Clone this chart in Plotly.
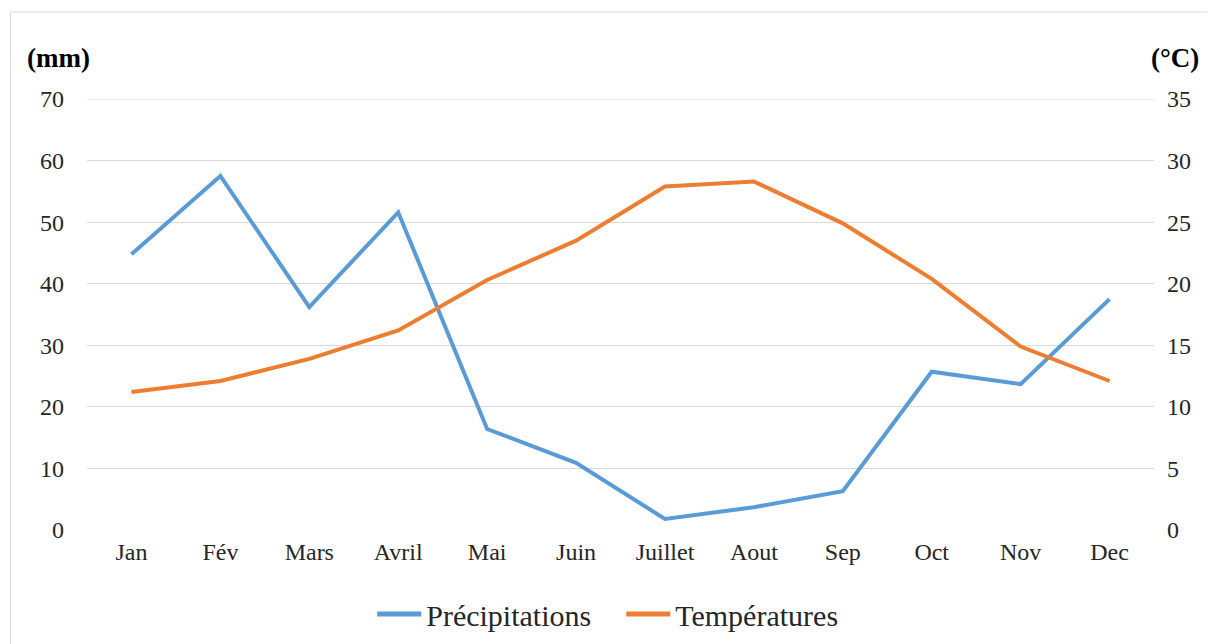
import plotly.graph_objects as go

months = ["Jan", "Fév", "Mars", "Avril", "Mai", "Juin", "Juillet", "Aout", "Sep", "Oct", "Nov", "Dec"]
precip = [44.8, 57.5, 36.2, 51.6, 16.4, 10.9, 1.8, 3.7, 6.3, 25.7, 23.7, 37.5]
temp = [11.2, 12.1, 13.9, 16.2, 20.3, 23.5, 27.9, 28.3, 24.9, 20.4, 14.9, 12.1]
y_ticks = [0, 10, 20, 30, 40, 50, 60, 70]
y2_ticks = [0, 5, 10, 15, 20, 25, 30, 35]

FONT = "Liberation Serif"

fig = go.Figure()
fig.add_trace(go.Scatter(x=months, y=precip, name="Précipitations", mode="lines",
                         line=dict(color="#5B9BD5", width=4), yaxis="y"))
fig.add_trace(go.Scatter(x=months, y=temp, name="Températures", mode="lines",
                         line=dict(color="#ED7D31", width=4), yaxis="y2"))

L, R, T, B = 86.5, 53.5, 99, 114
W, H = 1208, 644
pw, ph = W - L - R, H - T - B

def px(x):
    return (x - L) / pw

def py(y):
    return (H - B - y) / ph

fig.update_layout(
    width=W, height=H,
    margin=dict(l=L, r=R, t=T, b=B, autoexpand=False),
    paper_bgcolor="white", plot_bgcolor="white",
    font=dict(family=FONT, color="#262626", size=24),
    showlegend=True,
    legend=dict(orientation="h", x=px(372), xanchor="left", y=py(614), yanchor="middle",
                font=dict(size=30, family=FONT, color="#262626"), itemwidth=44,
                entrywidth=190, entrywidthmode="pixels",
                tracegroupgap=0, itemsizing="constant"),
    xaxis=dict(range=[-0.5, 11.5], showgrid=False, showline=False, zeroline=False,
               ticks="", tickfont=dict(size=24, family=FONT, color="#262626"), ticklabelstandoff=5),
    yaxis=dict(range=[0, 70], tickvals=y_ticks, showgrid=True,
               gridcolor="#D9D9D9", gridwidth=1,
               zeroline=False, showline=False, ticks="", tickfont=dict(size=24, family=FONT, color="#262626"),
               ticklabelstandoff=22),
    yaxis2=dict(range=[0, 35], tickvals=y2_ticks, overlaying="y", side="right",
                showgrid=False, zeroline=False, showline=False, ticks="",
                tickfont=dict(size=24, family=FONT, color="#262626"), ticklabelstandoff=12),
    annotations=[
        dict(text="<b>(mm)</b>", x=px(24), y=py(58), xref="paper", yref="paper",
             xanchor="left", yanchor="middle", showarrow=False,
             font=dict(size=27, family=FONT, color="#000000")),
        dict(text="<b>(°C)</b>", x=px(1202), y=py(58), xref="paper", yref="paper",
             xanchor="right", yanchor="middle", showarrow=False,
             font=dict(size=27, family=FONT, color="#000000")),
    ],
    shapes=[
        dict(type="line", xref="paper", yref="y", x0=0, x1=1, y0=y_ticks[-1], y1=y_ticks[-1],
             line=dict(color="#D9D9D9", width=1), layer="below"),
        dict(type="line", xref="paper", yref="paper", x0=px(10), x1=px(10), y0=py(12), y1=py(644),
             line=dict(color="#D9D9D9", width=1)),
        dict(type="line", xref="paper", yref="paper", x0=px(10), x1=px(1208), y0=py(12), y1=py(12),
             line=dict(color="#D9D9D9", width=1)),
    ],
)

fig.write_html("out.html")
